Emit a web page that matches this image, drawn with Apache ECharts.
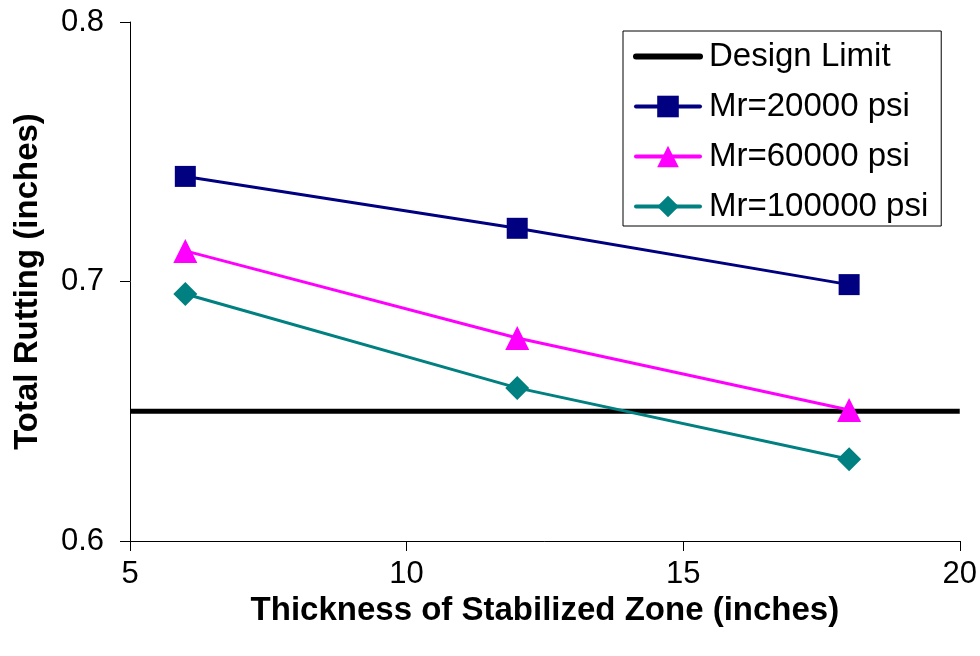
<!DOCTYPE html>
<html>
<head>
<meta charset="utf-8">
<script src="https://cdn.jsdelivr.net/npm/echarts@6/dist/echarts.min.js"></script>
<style>
  html, body { margin: 0; padding: 0; background: #fff; }
  #chart { width: 980px; height: 656px; }
</style>
</head>
<body>
<div id="chart"></div>
<script>
// Stabilized zone thickness (inches)
const thickness = [6, 12, 18];
// Total rutting (inches) for each subgrade resilient modulus
const rut20000 = [0.7405, 0.7205, 0.6988];
const rut60000 = [0.7118, 0.6782, 0.6505];
const rut100000 = [0.6952, 0.6590, 0.6315];
// Design limit spans the full x range
const limitX = [5, 20];
const limitY = [0.65, 0.65];

const seriesNames = ['Design Limit', 'Mr=20000 psi', 'Mr=60000 psi', 'Mr=100000 psi'];
const xTicks = { min: 5, max: 20, interval: 5 };
const yTicks = { min: 0.6, max: 0.8, interval: 0.1 };

const pairs = (xs, ys) => xs.map((x, i) => [x, ys[i]]);

const chart = echarts.init(document.getElementById('chart'), null, { renderer: 'canvas' });

const font = 'Liberation Sans, Arial, sans-serif';

chart.setOption({
  animation: false,
  backgroundColor: '#ffffff',
  grid: { left: 130, right: 19, top: 22, bottom: 115, containLabel: false },
  legend: {
    orient: 'vertical',
    left: 623,
    top: 31,
    // the design limit entry shows only its thick line, no marker
    data: [
      { name: seriesNames[0], itemStyle: { opacity: 0 }, lineStyle: { width: 6, cap: 'round' } },
      { name: seriesNames[1], lineStyle: { width: 4, cap: 'round' } },
      { name: seriesNames[2], lineStyle: { width: 4, cap: 'round' } },
      { name: seriesNames[3], lineStyle: { width: 4, cap: 'round' } }
    ],
    backgroundColor: '#ffffff',
    borderColor: '#000000',
    borderWidth: 1,
    borderRadius: 0,
    padding: [9, 13, 3, 10],
    itemWidth: 64,
    itemHeight: 27,
    itemGap: 17,
    textStyle: { fontFamily: font, fontSize: 33, color: '#000000', padding: [0, 0, 0, 4] }
  },
  xAxis: {
    type: 'value',
    min: xTicks.min, max: xTicks.max, interval: xTicks.interval,
    name: 'Thickness of Stabilized Zone (inches)',
    nameLocation: 'middle',
    nameGap: 50,
    nameTextStyle: { fontFamily: font, fontSize: 33, fontWeight: 'bold', color: '#000' },
    axisLine: { show: true, lineStyle: { color: '#000', width: 1 } },
    axisTick: { show: true, inside: false, length: 10, lineStyle: { color: '#000' } },
    axisLabel: { margin: 18, fontFamily: font, fontSize: 31, color: '#000' },
    splitLine: { show: false }
  },
  yAxis: {
    type: 'value',
    min: yTicks.min, max: yTicks.max, interval: yTicks.interval,
    name: 'Total Rutting (inches)',
    nameLocation: 'middle',
    nameGap: 86,
    nameTextStyle: { fontFamily: font, fontSize: 33, fontWeight: 'bold', color: '#000' },
    axisLine: { show: true, lineStyle: { color: '#000', width: 1 } },
    axisTick: { show: true, inside: false, length: 10, lineStyle: { color: '#000' } },
    axisLabel: { margin: 26, fontFamily: font, fontSize: 31, color: '#000', formatter: v => v.toFixed(1) },
    splitLine: { show: false }
  },
  series: [
    {
      name: seriesNames[0], type: 'line', data: pairs(limitX, limitY),
      showSymbol: false, symbol: 'none',
      lineStyle: { color: '#000000', width: 5 },
      itemStyle: { color: '#000000' }, z: 1
    },
    {
      name: seriesNames[1], type: 'line', data: pairs(thickness, rut20000),
      symbol: 'rect', symbolSize: 21,
      lineStyle: { color: '#000080', width: 3 },
      itemStyle: { color: '#000080' }, z: 3
    },
    {
      name: seriesNames[2], type: 'line', data: pairs(thickness, rut60000),
      symbol: 'triangle', symbolSize: 24,
      lineStyle: { color: '#ff00ff', width: 3 },
      itemStyle: { color: '#ff00ff' }, z: 3
    },
    {
      name: seriesNames[3], type: 'line', data: pairs(thickness, rut100000),
      symbol: 'diamond', symbolSize: 24,
      lineStyle: { color: '#008080', width: 3 },
      itemStyle: { color: '#008080' }, z: 3
    }
  ]
});
</script>
</body>
</html>
